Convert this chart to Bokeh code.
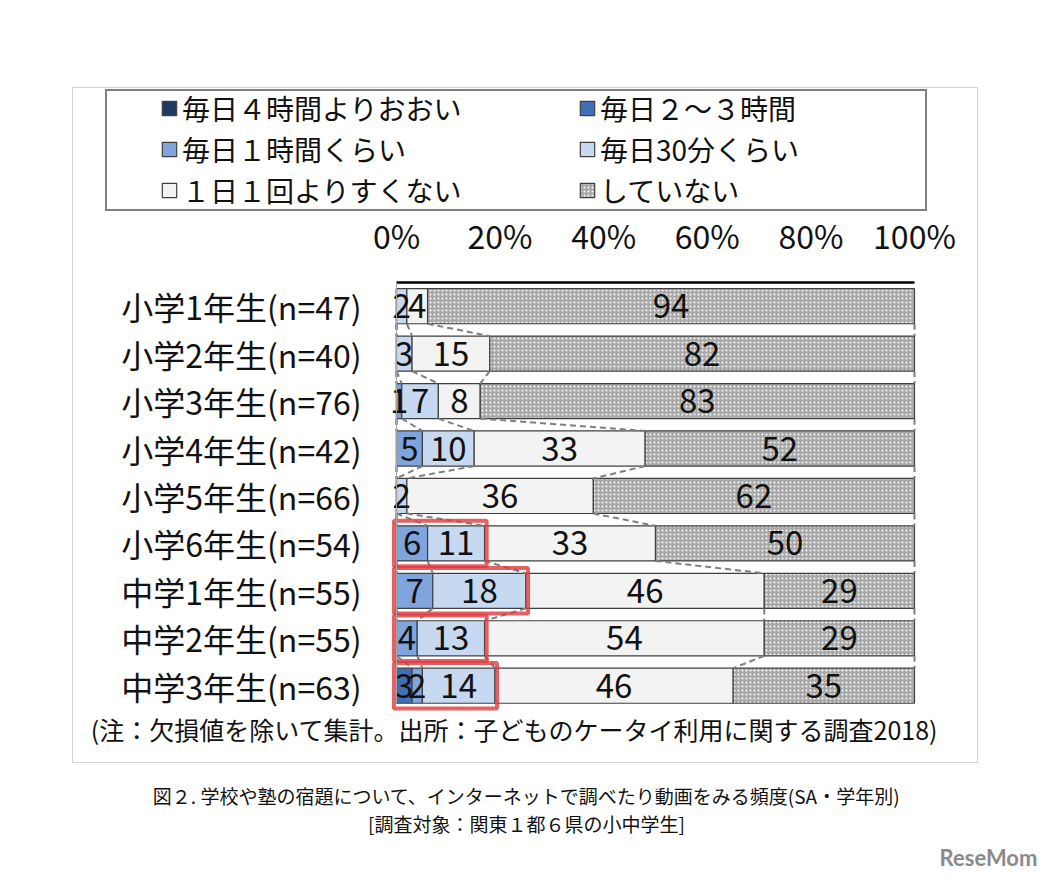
from bokeh.plotting import figure
from bokeh.models import (ColumnDataSource, Range1d, FixedTicker, Legend, LegendItem, Label)
from bokeh.core.properties import value
from bokeh.embed import file_html
from bokeh.resources import INLINE

# ---------------- data ----------------
categories = ["小学1年生(n=47)", "小学2年生(n=40)", "小学3年生(n=76)", "小学4年生(n=42)",
              "小学5年生(n=66)", "小学6年生(n=54)", "中学1年生(n=55)", "中学2年生(n=55)",
              "中学3年生(n=63)"]
series_names = ["毎日４時間よりおおい", "毎日２～３時間", "毎日１時間くらい",
                "毎日30分くらい", "１日１回よりすくない", "していない"]
v_4h = [0, 0, 0, 0, 0, 0, 0, 0, 0]
v_2_3h = [0, 0, 0, 0, 0, 0, 0, 0, 3]
v_1h = [0, 0, 1, 5, 0, 6, 7, 4, 2]
v_30m = [2, 3, 7, 10, 2, 11, 18, 13, 14]
v_rare = [4, 15, 8, 33, 36, 33, 46, 54, 46]
v_none = [94, 82, 83, 52, 62, 50, 29, 29, 35]
tick_values = [0, 20, 40, 60, 80, 100]
tick_labels = ["0%", "20%", "40%", "60%", "80%", "100%"]
highlighted = ["小学6年生(n=54)", "中学1年生(n=55)", "中学2年生(n=55)", "中学3年生(n=63)"]
note_text = "(注：欠損値を除いて集計。出所：子どものケータイ利用に関する調査2018)"
caption1 = "図２. 学校や塾の宿題について、インターネットで調べたり動画をみる頻度(SA・学年別)"
caption2 = "[調査対象：関東１都６県の小中学生]"
logo_text = "ReseMom"

# ---------------- layout / style ----------------
FONT = "Noto Sans CJK JP"
colors = ["#1f3864", "#416fb6", "#7fa5dc", "#c6d9f1", "#f3f3f3", "#a8a8a8"]
hatches = [{}, {}, {}, {}, {},
           dict(hatch_pattern="dot", hatch_color="white", hatch_scale=4,
                hatch_weight=1.5, hatch_alpha=1.0)]
BAR_H = 0.74
W, H = 1050, 880
X0_PX, X100_PX = 396, 914          # where 0% and 100% sit on the page
ROW0_PX, ROW_STEP = 305.7, 47.44   # centre of first row, row pitch

n = len(categories)
ypos = list(range(n - 1, -1, -1))  # first category at the top

px_per_unit = (X100_PX - X0_PX) / 100.0
x_start = -X0_PX / px_per_unit
x_end = (W - X0_PX) / px_per_unit
y_end = ypos[0] + ROW0_PX / ROW_STEP
y_start = ypos[0] - (H - ROW0_PX) / ROW_STEP

# outer chart border + legend border drawn as CSS background lines of the page block
def css_box(x, y, w, h, t, c):
    g = f"linear-gradient({c},{c})"
    return ([g] * 4,
            [f"{x}px {y}px", f"{x}px {y + h - t}px", f"{x}px {y}px", f"{x + w - t}px {y}px"],
            [f"{w}px {t}px", f"{w}px {t}px", f"{t}px {h}px", f"{t}px {h}px"])

imgs, poss, sizes = [], [], []
for b in (css_box(72, 87, 906, 676, 1, "#d4d4d4"), css_box(105, 89, 822, 122, 2, "#808080")):
    imgs += b[0]; poss += b[1]; sizes += b[2]
host_styles = {
    "background-image": ", ".join(imgs),
    "background-position": ", ".join(poss),
    "background-size": ", ".join(sizes),
    "background-repeat": "no-repeat",
    "background-color": "white",
}

p = figure(width=W, height=H, x_range=Range1d(x_start, x_end), y_range=Range1d(y_start, y_end),
           min_border=0, x_axis_location="above", y_axis_location="left",
           title_location=None,
           output_backend="svg", toolbar_location=None, outline_line_color=None,
           background_fill_color=None, background_fill_alpha=0,
           border_fill_color=None, border_fill_alpha=0, styles=host_styles)

series_values = [v_4h, v_2_3h, v_1h, v_30m, v_rare, v_none]
totals = [sum(s[i] for s in series_values) for i in range(n)]

left = [0.0] * n
cums = []
renderers = []
for k, vals in enumerate(series_values):
    right = [left[i] + vals[i] * 100.0 / totals[i] for i in range(n)]
    src = ColumnDataSource(dict(y=ypos, left=left, right=right))
    r = p.hbar(y="y", left="left", right="right", height=BAR_H, source=src,
               fill_color=colors[k], line_color="#404040", line_width=1.2, **hatches[k])
    renderers.append(r)
    cums.append(right)
    left = right

# series lines (dashed connectors between bars)
x0s, y0s, x1s, y1s = [], [], [], []
for k in range(len(series_values)):
    for i in range(n - 1):
        x0s.append(cums[k][i]); y0s.append(ypos[i] - BAR_H / 2)
        x1s.append(cums[k][i + 1]); y1s.append(ypos[i + 1] + BAR_H / 2)
p.segment(x0=x0s, y0=y0s, x1=x1s, y1=y1s, line_color="#7f7f7f",
          line_width=2, line_dash="6 4")

# value labels
lx, ly, lt = [], [], []
prev = [0.0] * n
for k, vals in enumerate(series_values):
    for i in range(n):
        if vals[i] > 0:
            lx.append((prev[i] + cums[k][i]) / 2)
            ly.append(ypos[i])
            lt.append(str(vals[i]))
    prev = cums[k]
p.text(x=lx, y=ly, text=lt, text_font=value(FONT), text_font_size="33px",
       text_align="center", text_baseline="middle", text_color="#111111")

# highlight boxes
hb_left, hb_right, hb_top, hb_bottom = [], [], [], []
for c in highlighted:
    i = categories.index(c)
    hb_left.append(-0.5)
    hb_right.append(cums[3][i] + 0.4)
    hb_top.append(ypos[i] + 0.48)
    hb_bottom.append(ypos[i] - 0.48)
p.quad(left=hb_left, right=hb_right, top=hb_top, bottom=hb_bottom,
       fill_color=None, line_color="#e0393e", line_alpha=0.8, line_width=4)

# axes drawn at fixed locations inside the canvas
top_edge = ypos[0] + 0.5
bottom_edge = ypos[-1] - BAR_H / 2
xa = p.xaxis[0]
xa.fixed_location = top_edge
xa.bounds = (tick_values[0], tick_values[-1])
xa.ticker = FixedTicker(ticks=tick_values)
xa.major_label_overrides = dict(zip(tick_values, tick_labels))
xa.major_label_text_font = FONT
xa.major_label_text_font_size = "32px"
xa.major_label_text_color = "#111111"
xa.major_label_standoff = 18
xa.axis_line_color = "black"
xa.axis_line_width = 2.5
xa.major_tick_line_color = None
xa.minor_tick_line_color = None

ya = p.yaxis[0]
ya.fixed_location = 0
ya.bounds = (bottom_edge, top_edge)
ya.ticker = FixedTicker(ticks=ypos)
ya.major_label_overrides = dict(zip(ypos, categories))
ya.major_label_text_font = FONT
ya.major_label_text_font_size = "32px"
ya.major_label_text_color = "#111111"
ya.major_label_standoff = 29
ya.axis_line_color = "#a6a6a6"
ya.axis_line_width = 1
ya.major_tick_line_color = None
ya.minor_tick_line_color = None
p.xgrid.visible = False
p.ygrid.visible = False

# legend: two columns of three items
def make_legend(idx, x, standoff):
    return Legend(items=[LegendItem(label=series_names[k], renderers=[renderers[k]]) for k in idx],
                  location=(x, H - 210), orientation="vertical",
                  label_text_font=FONT, label_text_font_size="28px",
                  label_text_color="#111111",
                  glyph_width=18, glyph_height=18, label_standoff=standoff,
                  label_height=41, spacing=0, padding=0, margin=0,
                  border_line_color=None, background_fill_alpha=0)

p.add_layout(make_legend([0, 2, 4], 160, 4))
p.add_layout(make_legend([1, 3, 5], 578, 4))

# note, captions and logo
def slabel(x, y, text, size, color="#111111", style="normal", font=FONT):
    return Label(x=x, y=H - y, x_units="screen", y_units="screen", text=text,
                 text_font=font, text_font_size=size, text_align="center",
                 text_baseline="middle", text_color=color, text_font_style=style)

p.add_layout(slabel(514, 728, note_text, "25px"))
p.add_layout(slabel(526, 795, caption1, "19px"))
p.add_layout(slabel(526, 823, caption2, "19px"))
p.add_layout(slabel(988, 857, logo_text, "22px", color="#8a8a8a", style="bold", font="Lato"))

open("out.html", "w").write(file_html(p, INLINE))
